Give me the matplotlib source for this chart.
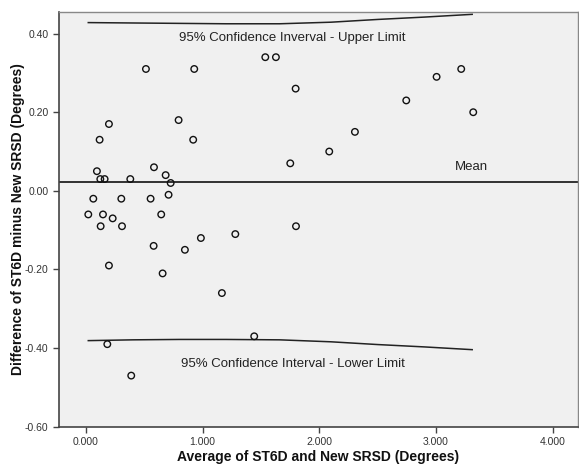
import numpy as np
import matplotlib.pyplot as plt
from matplotlib.ticker import FuncFormatter

plt.rcParams["font.family"] = ["Liberation Sans", "DejaVu Sans"]

# averages (x) and differences (y) of the two measurements
avg = [0.514, 0.928, 1.537, 1.628, 1.797, 0.197, 0.117, 0.794, 0.919, 0.094,
       0.123, 0.160, 0.380, 0.583, 0.683, 0.726, 0.708, 0.063, 0.303, 0.554,
       0.020, 0.146, 0.229, 0.126, 0.309, 0.645, 1.800, 0.985, 1.280, 3.005,
       3.216, 2.745, 3.319, 2.305, 2.085, 1.751, 0.580, 0.848, 0.197, 0.657,
       1.165, 1.442, 0.183, 0.388]
diff = [0.31, 0.31, 0.34, 0.34, 0.26, 0.17, 0.13, 0.18, 0.13, 0.05,
        0.03, 0.03, 0.03, 0.06, 0.04, 0.02, -0.01, -0.02, -0.02, -0.02,
        -0.06, -0.06, -0.07, -0.09, -0.09, -0.06, -0.09, -0.12, -0.11, 0.29,
        0.31, 0.23, 0.20, 0.15, 0.10, 0.07, -0.14, -0.15, -0.19, -0.21,
        -0.26, -0.37, -0.39, -0.47]
mean_diff = 0.022

# confidence limit curves, read at a few x positions
limit_x = [0.02, 0.4, 0.8, 1.2, 1.66, 2.1, 2.5, 2.9, 3.31]
upper = [0.428, 0.427, 0.426, 0.425, 0.425, 0.429, 0.436, 0.442, 0.449]
lower = [-0.381, -0.379, -0.378, -0.378, -0.379, -0.384, -0.391, -0.397, -0.404]

xticks = [0, 1, 2, 3, 4]
yticks = [-0.6, -0.4, -0.2, 0.0, 0.2, 0.4]

fig = plt.figure(figsize=(5.79, 4.66), dpi=100)
ax = fig.add_axes([0.1019, 0.0843, 0.8964, 0.890])
ax.set_facecolor("#f0f0f0")

ax.axhline(mean_diff, color="#222222", lw=1.3)
ax.plot(limit_x, upper, color="#222222", lw=1.1)
ax.plot(limit_x, lower, color="#222222", lw=1.1)
ax.scatter(avg, diff, s=22, facecolors="none", edgecolors="#111111",
           linewidths=1.0, zorder=3)

ax.text(1.77, 0.389, "95% Confidence Inverval - Upper Limit", ha="center",
        va="center", fontsize=9.5, color="#222222")
ax.text(1.77, -0.440, "95% Confidence Interval - Lower Limit", ha="center",
        va="center", fontsize=9.5, color="#222222")
ax.text(3.3, 0.061, "Mean", ha="center", va="center", fontsize=9.5,
        color="#222222")

ax.set_xlim(-0.231, 4.217)
ax.set_ylim(-0.60, 0.455)
ax.set_xticks(xticks)
ax.set_yticks(yticks)
ax.xaxis.set_major_formatter(FuncFormatter(lambda v, p: f"{v:.3f}"))
ax.yaxis.set_major_formatter(FuncFormatter(lambda v, p: f"{v:.2f}"))
ax.tick_params(direction="out", length=4, width=1, color="#444444",
               labelsize=7.5, labelcolor="#333333")

for side in ["left", "bottom"]:
    ax.spines[side].set_color("#444444")
    ax.spines[side].set_linewidth(1.2)
for side in ["top", "right"]:
    ax.spines[side].set_color("#888888")
    ax.spines[side].set_linewidth(1.0)

ax.set_xlabel("Average of ST6D and New SRSD (Degrees)", fontsize=10,
              fontweight="bold", color="#111111", labelpad=2)
ax.set_ylabel("Difference of ST6D minus New SRSD (Degrees)", fontsize=10,
              fontweight="bold", color="#111111")
ax.yaxis.set_label_coords(-0.066, 0.5)

fig.savefig("out.png", dpi=100)
